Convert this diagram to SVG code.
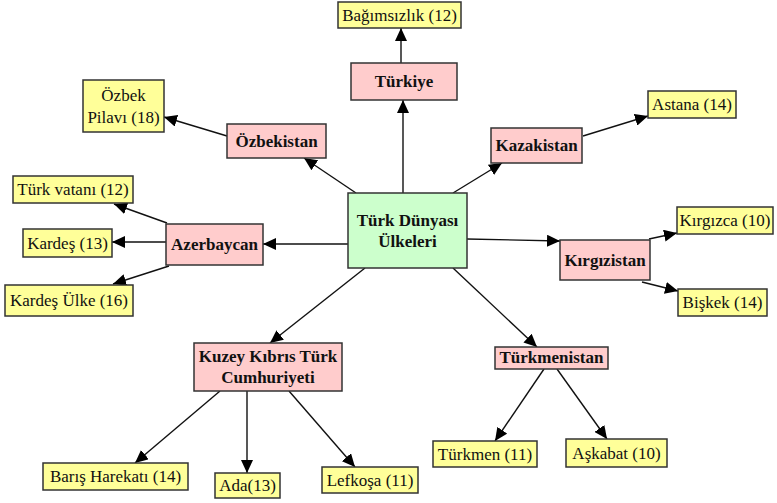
<svg xmlns="http://www.w3.org/2000/svg" width="777" height="503" viewBox="0 0 777 503">
<style>
.c rect{fill:#FFCCCC;stroke:#333;stroke-width:1.5}
.l rect{fill:#FFFF99;stroke:#333;stroke-width:1.5}
.m rect{fill:#CCFFCC;stroke:#333;stroke-width:1.5}
.c text,.m text{font-family:"Liberation Serif",serif;font-weight:bold;font-size:17px;fill:#111;text-anchor:middle}
.l text{font-family:"Liberation Serif",serif;font-size:17px;fill:#111;text-anchor:middle}
#edges line{stroke:#111;stroke-width:1.4;marker-end:url(#ah)}
</style>
<defs>
<marker id="ah" markerUnits="userSpaceOnUse" markerWidth="14" markerHeight="12" refX="13" refY="6" orient="auto">
<path d="M0,0 L13,6 L0,12 Z" fill="#000"/>
</marker>
</defs>
<rect width="777" height="503" fill="#fff"/>
<g id="edges">
<line x1="403" y1="193" x2="403" y2="100"/>
<line x1="401" y1="63" x2="401" y2="28"/>
<line x1="356" y1="193" x2="304" y2="158"/>
<line x1="227" y1="136" x2="164" y2="117"/>
<line x1="453" y1="193" x2="502" y2="163"/>
<line x1="583" y1="136" x2="648" y2="116"/>
<line x1="348" y1="244" x2="263" y2="244"/>
<line x1="167" y1="223" x2="114" y2="204"/>
<line x1="166" y1="242" x2="112" y2="242"/>
<line x1="169" y1="266" x2="113" y2="284"/>
<line x1="467" y1="239" x2="560" y2="241"/>
<line x1="649" y1="239" x2="677" y2="233"/>
<line x1="642" y1="282" x2="678" y2="291"/>
<line x1="365" y1="268" x2="270" y2="343"/>
<line x1="220" y1="391" x2="135" y2="463"/>
<line x1="247" y1="391" x2="247" y2="473"/>
<line x1="289" y1="391" x2="355" y2="467"/>
<line x1="453" y1="268" x2="537" y2="347"/>
<line x1="544" y1="369" x2="495" y2="441"/>
<line x1="557" y1="369" x2="607" y2="439"/>
</g>
<g id="center" class="m"><rect x="348" y="193" width="119" height="75"/><text x="407.5" y="226">Türk Dünyası</text><text x="407.5" y="247">Ülkeleri</text></g>
<g id="turkiye" class="c"><rect x="351" y="63" width="106" height="37"/><text x="404" y="87">Türkiye</text></g>
<g id="bagimsizlik" class="l"><rect x="338" y="2" width="123" height="26"/><text x="399.5" y="21">Bağımsızlık (12)</text></g>
<g id="ozbekistan" class="c"><rect x="227" y="124" width="99" height="34"/><text x="276.5" y="147">Özbekistan</text></g>
<g id="pilav" class="l"><rect x="83" y="80" width="81" height="52"/><text x="123.5" y="101">Özbek</text><text x="123.5" y="123">Pilavı (18)</text></g>
<g id="kazakistan" class="c"><rect x="491" y="128" width="91" height="35"/><text x="536.5" y="151">Kazakistan</text></g>
<g id="astana" class="l"><rect x="648" y="91" width="88" height="27"/><text x="692" y="110">Astana (14)</text></g>
<g id="azerbaycan" class="c"><rect x="166" y="224" width="97" height="41"/><text x="214.5" y="250">Azerbaycan</text></g>
<g id="vatan" class="l"><rect x="13" y="176" width="120" height="27"/><text x="73" y="195">Türk vatanı (12)</text></g>
<g id="kardes" class="l"><rect x="23" y="229" width="89" height="28"/><text x="67.5" y="249">Kardeş (13)</text></g>
<g id="kardesulke" class="l"><rect x="5" y="285" width="128" height="31"/><text x="69" y="306">Kardeş Ülke (16)</text></g>
<g id="kirgizistan" class="c"><rect x="560" y="240" width="90" height="40"/><text x="605" y="266">Kırgızistan</text></g>
<g id="kirgizca" class="l"><rect x="677" y="207" width="96" height="27"/><text x="725" y="226">Kırgızca (10)</text></g>
<g id="biskek" class="l"><rect x="678" y="289" width="89" height="27"/><text x="722.5" y="308">Bişkek (14)</text></g>
<g id="kktc" class="c"><rect x="194" y="343" width="148" height="48"/><text x="268" y="362">Kuzey Kıbrıs Türk</text><text x="268" y="383">Cumhuriyeti</text></g>
<g id="baris" class="l"><rect x="43" y="463" width="145" height="27"/><text x="115.5" y="482">Barış Harekatı (14)</text></g>
<g id="ada" class="l"><rect x="215" y="473" width="65" height="25"/><text x="247.5" y="491">Ada(13)</text></g>
<g id="lefkosa" class="l"><rect x="322" y="467" width="96" height="26"/><text x="370" y="486">Lefkoşa (11)</text></g>
<g id="turkmenistan" class="c"><rect x="495" y="347" width="113" height="22"/><text x="551.5" y="363">Türkmenistan</text></g>
<g id="turkmen" class="l"><rect x="433" y="441" width="104" height="26"/><text x="485" y="460">Türkmen (11)</text></g>
<g id="askabat" class="l"><rect x="566" y="439" width="101" height="28"/><text x="616.5" y="459">Aşkabat (10)</text></g>
</svg>
